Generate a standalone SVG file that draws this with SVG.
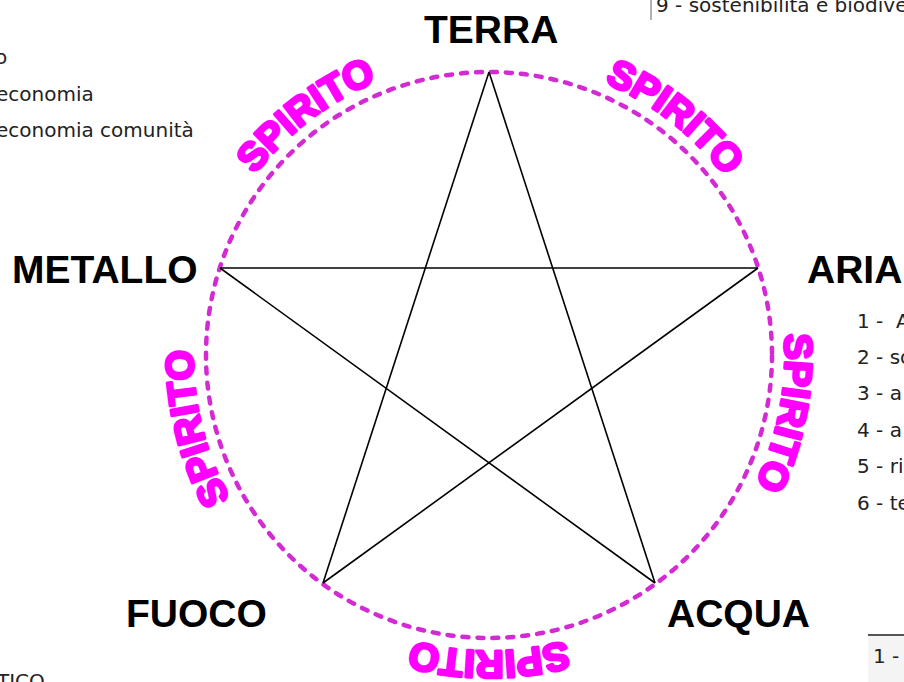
<svg xmlns="http://www.w3.org/2000/svg" width="904" height="682" viewBox="0 0 904 682">
<style>
.lbl{font-family:"Liberation Sans",Arial,sans-serif;font-weight:bold;font-size:39px;fill:#000}
.sp{font-family:"Liberation Sans",Arial,sans-serif;font-weight:bold;font-size:39px;fill:#ff00ff;stroke:#ff00ff;stroke-width:3;stroke-linejoin:round}
.edge{font-family:"DejaVu Sans",Verdana,sans-serif;font-size:20px;fill:#222}
.star{stroke:#000;stroke-width:1.6;fill:none}
</style>
<defs>
<path id="a1" d="M200.5,291.6 A296,296 0 0 1 504.5,59.4"/>
<path id="a2" d="M478.7,59.2 A296,296 0 0 1 778.5,293.5"/>
<path id="a3" d="M747.9,211.5 A296,296 0 0 1 675.3,585.0"/>
<path id="a4" d="M679.3,581.7 A296,296 0 0 1 298.7,581.7"/>
<path id="a5" d="M315.0,594.5 A296,296 0 0 1 223.0,225.2"/>
</defs>
<rect width="904" height="682" fill="#fff"/>
<g id="edge-texts">
<text class="edge" x="-5" y="64">o</text>
<text class="edge" x="-4" y="101">economia</text>
<text class="edge" x="-4" y="137">economia comunità</text>
<line x1="651" y1="0" x2="651" y2="20" stroke="#999" stroke-width="1.5"/>
<text class="edge" x="656" y="12">9 - sostenibilità e biodiversità</text>
<text class="edge" x="857" y="328" xml:space="preserve">1 -  A</text>
<text class="edge" x="857" y="364">2 - so</text>
<text class="edge" x="857" y="400">3 - a</text>
<text class="edge" x="857" y="437">4 - a</text>
<text class="edge" x="857" y="473">5 - ri</text>
<text class="edge" x="857" y="510">6 - te</text>
<rect x="868" y="636" width="40" height="50" fill="#f4f4f4"/>
<line x1="868" y1="635" x2="904" y2="635" stroke="#555" stroke-width="2"/>
<text class="edge" x="873" y="663">1 -</text>
<text class="edge" x="-3" y="688">TICO</text>
</g>
<g id="circle">
<circle cx="489" cy="355" r="283" fill="none" stroke="#d42ad4" stroke-width="4.5" stroke-dasharray="6 9" stroke-linecap="round"/>
</g>
<g id="connectors">
<line class="star" x1="489" y1="72" x2="323" y2="583"/>
<line class="star" x1="489" y1="72" x2="655" y2="583"/>
<line class="star" x1="220" y1="268" x2="758" y2="268"/>
<line class="star" x1="220" y1="268" x2="655" y2="583"/>
<line class="star" x1="758" y1="268" x2="323" y2="583"/>
</g>
<g id="terra"><text class="lbl" x="424" y="43">TERRA</text></g>
<g id="aria"><text class="lbl" x="807" y="283">ARIA</text></g>
<g id="acqua"><text class="lbl" x="667" y="627">ACQUA</text></g>
<g id="fuoco"><text class="lbl" x="126" y="627">FUOCO</text></g>
<g id="metallo"><text class="lbl" x="12" y="283">METALLO</text></g>
<g id="spirito">
<text class="sp"><textPath href="#a1" startOffset="50%" text-anchor="middle">SPIRITO</textPath></text>
<text class="sp"><textPath href="#a2" startOffset="50%" text-anchor="middle">SPIRITO</textPath></text>
<text class="sp"><textPath href="#a3" startOffset="50%" text-anchor="middle">SPIRITO</textPath></text>
<text class="sp"><textPath href="#a4" startOffset="50%" text-anchor="middle">SPIRITO</textPath></text>
<text class="sp"><textPath href="#a5" startOffset="50%" text-anchor="middle">SPIRITO</textPath></text>
</g>
</svg>
